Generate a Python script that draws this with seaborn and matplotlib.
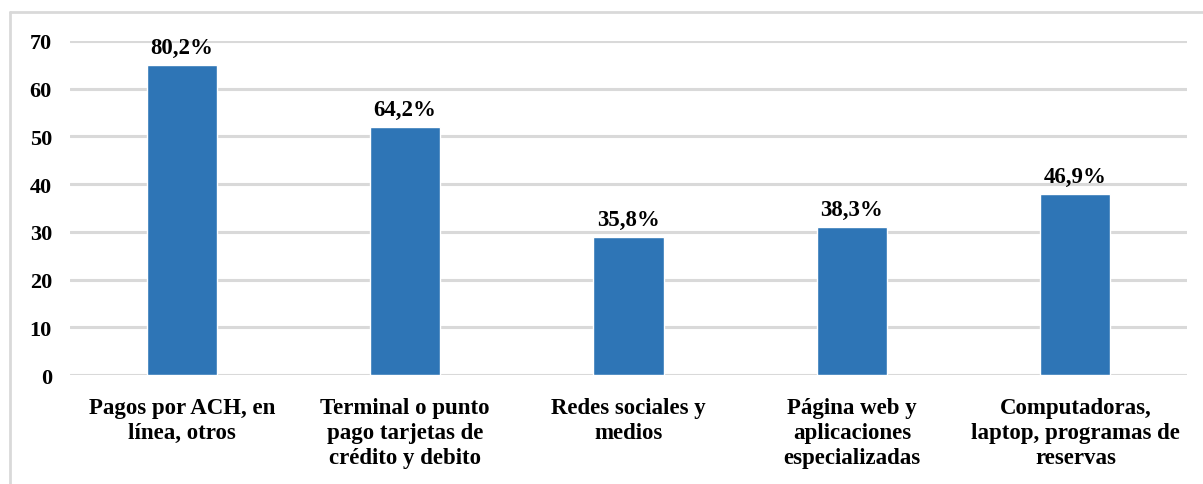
import matplotlib
matplotlib.use("Agg")
import matplotlib.pyplot as plt
import seaborn as sns
import pandas as pd
from matplotlib.lines import Line2D

categories = [
    "Pagos por ACH, en\nlínea, otros",
    "Terminal o punto\npago tarjetas de\ncrédito y debito",
    "Redes sociales y\nmedios",
    "Página web y\naplicaciones\nespecializadas",
    "Computadoras,\nlaptop, programas de\nreservas",
]
values = [65, 52, 29, 31, 38]
labels = ["80,2%", "64,2%", "35,8%", "38,3%", "46,9%"]
yticks = [0, 10, 20, 30, 40, 50, 60, 70]

sns.set_theme(style="white")
plt.rcParams['font.family'] = ['Liberation Serif', 'DejaVu Serif']
plt.rcParams['font.weight'] = 'bold'
plt.rcParams['text.color'] = 'black'
plt.rcParams['xtick.color'] = 'black'
plt.rcParams['ytick.color'] = 'black'

df = pd.DataFrame({"cat": categories, "val": values})

fig = plt.figure(figsize=(12.03, 4.85), dpi=100)
ax = fig.add_axes([70/1203, 1-376/485, (1187-70)/1203, (376-42)/485])

sns.barplot(data=df, x="cat", y="val", color="#2E75B6", saturation=1,
            width=0.315, ax=ax, zorder=3)

ax.set_ylim(0, 70)
ax.set_xlim(-0.5, 4.5)
ax.set_yticks(yticks)
ax.set_yticklabels([str(t) for t in yticks], fontsize=16, fontweight='bold', color='black')
ax.yaxis.grid(True, color="#d9d9d9", linewidth=2.2, zorder=0)
ax.set_axisbelow(True)
for s in ax.spines.values():
    s.set_visible(False)
ax.tick_params(axis='y', length=0, pad=13)
ax.tick_params(axis='x', length=0, pad=16)
ax.set_xticks(range(len(categories)))
ax.set_xticklabels(categories, fontsize=16.5, fontweight='bold', linespacing=1.25, color='black')
ax.set_xlabel("")
ax.set_ylabel("")

for i, (v, lab) in enumerate(zip(values, labels)):
    ax.annotate(lab, (i, v), xytext=(0, 5), textcoords="offset points",
                ha="center", va="bottom", fontsize=16.5, fontweight='bold', color='black')

# figure frame (top and left lines)
fig.add_artist(Line2D([10/1203, 1], [1-13/485, 1-13/485], transform=fig.transFigure,
                      color="#d9d9d9", linewidth=2))
fig.add_artist(Line2D([10/1203, 10/1203], [0, 1-13/485], transform=fig.transFigure,
                      color="#d9d9d9", linewidth=2))

fig.savefig("out.png", dpi=100, facecolor="white")
